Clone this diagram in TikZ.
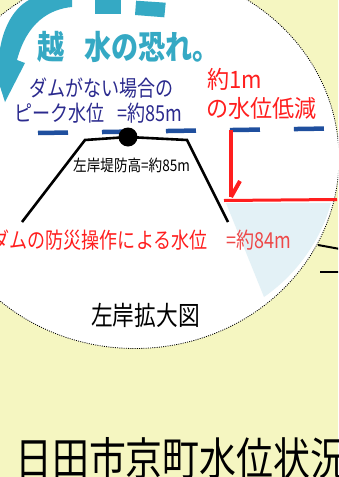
\documentclass[tikz,border=0pt]{standalone}
\usepackage{fontspec}
% condensed gothic faces at several widths
\newfontfamily\jpTitle[FakeStretch=0.82]{Noto Sans CJK JP}
\newfontfamily\jpNarrow[FakeStretch=0.82]{Noto Sans CJK JP}
\newfontfamily\jpNote[FakeStretch=0.92]{Noto Sans CJK JP}
\newfontfamily\jpSmall[FakeStretch=0.85]{Noto Sans CJK JP}
\definecolor{bgyellow}{HTML}{F5F6C1}
\definecolor{arrowteal}{HTML}{35A9C4}
\definecolor{textnavy}{HTML}{2B2A8E}
\definecolor{levelblue}{HTML}{1F4F9E}
\definecolor{alertred}{HTML}{FF1E1E}
\definecolor{softred}{HTML}{EE4848}
\definecolor{waterblue}{HTML}{E3F1F6}
\begin{document}
\begin{tikzpicture}[x=1pt,y=-1pt,
  txt/.style={inner sep=0pt,anchor=base west},
  bank/.style={line width=2.6pt,line join=miter,black},
  dimline/.style={alertred,line width=3.4pt}]
\useasboundingbox (0,0) rectangle (338,477);
\clip (0,0) rectangle (338,477);
\fill[bgyellow] (0,0) rectangle (338,477);

% black lines of the main drawing, right of the lens
\draw[line width=2pt] (318,245) -- (340,249);
\draw[line width=2pt] (320,272) -- (340,272);

% magnifier lens
\draw[fill=white,draw=black,line width=0.8pt,dash pattern=on 1pt off 1.2pt]
  (135,158.5) ellipse [x radius=204pt, y radius=190pt];

% river water under the lowered level
\fill[waterblue] (226,203) -- (331,203) .. controls (322,236) and (300,272) .. (264,297) -- cycle;

% curved overflow arrow and its dashed track
\fill[arrowteal] (72,-2) -- (72,7) .. controls (50,9) and (27,22) .. (17,60)
  -- (25,63) -- (5,102) -- (-10,55) -- (-1,56)
  .. controls (2,28) and (14,6) .. (33,-2) -- cycle;
\fill[arrowteal] (95,-2) -- (121,-2) -- (121,14) -- (95,14) -- cycle;
\fill[arrowteal] (136.1,0.7) -- (165.7,2.7) -- (164.3,17.3) -- (135,15) -- cycle;

% peak water level without the dam
\draw[levelblue,line width=4.5pt,dash pattern=on 30pt off 34pt] (38,133) -- (330,128.5);

% left bank cross-section
\coordinate (crest) at (128,137);
\draw[bank] (22,222) -- (85,140) -- (crest) -- (187,140) -- (228,222);
\fill (crest) circle[radius=9.5pt];

% lowered level and drop arrow
\coordinate (dropTop) at (231,130);
\coordinate (dropTip) at (231,197);
\coordinate (barb) at (240,181);
\draw[dimline] (dropTop) -- (dropTip);
\draw[alertred,line width=4pt] (barb) -- (dropTip);
\draw[alertred,line width=3pt] (224,200.5) -- (337,199.5);

% labels
\node[txt,font=\jpTitle\bfseries\fontsize{33}{33}\selectfont,text=arrowteal] (t1) at (37,59.5) {越};
\node[txt,font=\jpTitle\bfseries\fontsize{33}{33}\selectfont,text=arrowteal] (t2) at (84,59.5) {水の恐れ。};
\node[txt,font=\jpNarrow\fontsize{22}{22}\selectfont,text=textnavy] (p1) at (29,96.5) {ダムがない場合の};
\node[txt,font=\jpNarrow\fontsize{22}{22}\selectfont,text=textnavy] (p2) at (14,121.5) {ピーク水位};
\node[txt,font=\jpNarrow\fontsize{22}{22}\selectfont,text=textnavy] (p3) at (117,121.5) {=約85m};
\node[txt,font=\jpNote\fontsize{24}{24}\selectfont,text=alertred] (d1) at (207,88.5) {約1m};
\node[txt,font=\jpNote\fontsize{24}{24}\selectfont,text=alertred] (d2) at (206,117) {の水位低減};
\node[txt,font=\jpSmall\fontsize{16}{16}\selectfont] (h1) at (73,171) {左岸堤防高=約85m};
\node[txt,font=\jpNarrow\fontsize{22}{22}\selectfont,text=alertred] (w1) at (-8.5,248.5) {ダムの防災操作による水位};
\node[txt,font=\jpNarrow\fontsize{22}{22}\selectfont,text=softred] (w2) at (226,248.5) {=約84m};
\node[txt,font=\jpNarrow\fontsize{26.5}{26.5}\selectfont] (cap) at (91,325) {左岸拡大図};
\node[txt,font=\jpNarrow\fontsize{45}{45}\selectfont] (title) at (15,475) {日田市京町水位状況};
\end{tikzpicture}
\end{document}
